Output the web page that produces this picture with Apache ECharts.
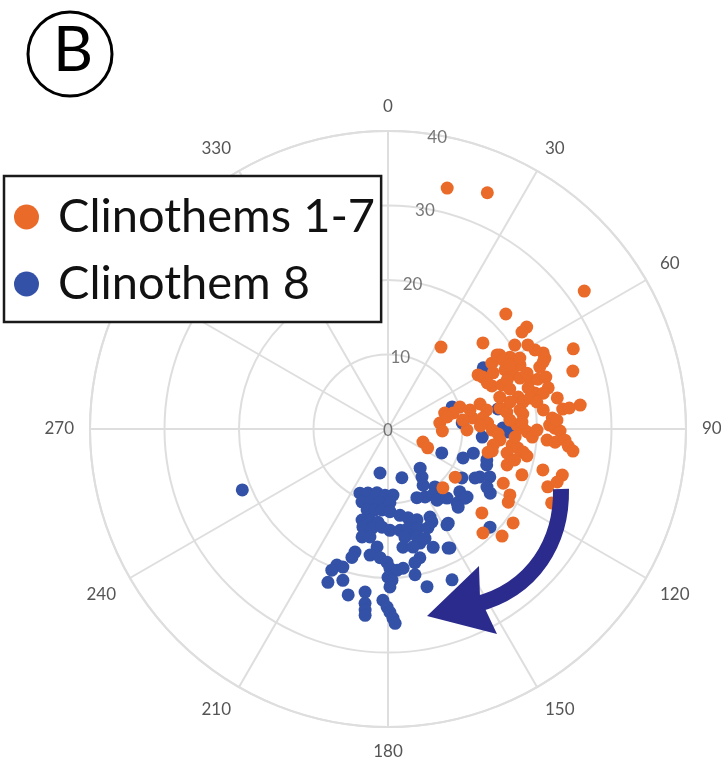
<!DOCTYPE html>
<html>
<head>
<meta charset="utf-8">
<script src="https://cdn.jsdelivr.net/npm/echarts@6/dist/echarts.min.js"></script>
<style>
  html, body { margin: 0; padding: 0; background: #fff; }
  #chart { width: 721px; height: 767px; }
</style>
</head>
<body>
<div id="chart"></div>
<script>
// Series names, in legend order
const seriesNames = ['Clinothems 1-7', 'Clinothem 8'];

// Compass ticks (degrees, clockwise from north) and radial ticks
const angleTicks = [0, 30, 60, 90, 120, 150, 180, 210, 240, 270, 300, 330];
const radiusTicks = [0, 10, 20, 30, 40];
const radiusLabelAngle = 9.5;

// [radius, azimuth] pairs
const clinothems1to7 = [
  [33.3, 13.8], [34.4, 22.8], [32.2, 54.9], [22.1, 45.7], [23.1, 53.7], [22.2, 54.1],
  [13.1, 32.9], [17.2, 47.8], [27.1, 66.6], [23.2, 63.9], [23.1, 65.7], [18.0, 56.5],
  [19.0, 59.5], [19.7, 64.1], [26.0, 72.6], [14.1, 59.0], [16.5, 57.6], [22.0, 67.8],
  [17.6, 63.2], [18.3, 66.3], [19.0, 68.9], [20.2, 71.0], [21.2, 71.6], [22.3, 71.8],
  [15.1, 67.5], [16.4, 68.9], [17.2, 71.8], [22.2, 75.6], [18.0, 76.2], [18.5, 78.7],
  [20.3, 76.2], [23.1, 79.6], [26.0, 82.9], [23.6, 83.5], [24.5, 83.4], [10.1, 73.0],
  [7.9, 74.3], [12.8, 74.8], [13.5, 79.1], [15.9, 80.8], [17.9, 81.8], [18.2, 83.7],
  [22.1, 86.2], [11.4, 82.5], [12.8, 83.4], [13.4, 86.6], [9.0, 76.2], [7.0, 83.4],
  [7.3, 92.1], [12.4, 88.1], [14.0, 90.6], [14.8, 92.6], [17.3, 88.2], [18.1, 89.6],
  [21.7, 88.6], [22.4, 89.7], [23.1, 90.7], [21.4, 94.0], [22.5, 94.5], [23.8, 93.6],
  [24.3, 95.4], [25.0, 96.8], [18.7, 91.2], [19.4, 93.2], [15.1, 95.6], [14.3, 98.7],
  [14.3, 101.9], [16.8, 97.4], [17.6, 98.3], [18.4, 99.7], [19.0, 101.0], [17.1, 93.6],
  [10.6, 90.7], [5.0, 110.4], [5.9, 115.4], [13.8, 103.0], [16.7, 106.8], [19.0, 108.9],
  [11.1, 125.6], [24.2, 104.8], [22.8, 109.9], [17.1, 115.2], [18.6, 118.4], [18.9, 121.3],
  [24.1, 114.3], [10.8, 137.0], [16.9, 131.8], [21.0, 126.9], [18.9, 137.6], [21.0, 133.2],
  [20.1, 68.1], [22.7, 66.6], [19.6, 73.7], [21.4, 77.0], [15.3, 79.4], [16.1, 81.9],
  [8.1, 78.5], [17.7, 55.8], [18.0, 59.0], [18.5, 62.3], [16.0, 61.9], [14.5, 61.3],
  [14.7, 65.1], [17.3, 67.6], [15.6, 74.1], [16.8, 77.5], [19.5, 77.7], [20.3, 79.7],
  [21.0, 83.0], [22.7, 87.0], [16.4, 85.8], [18.0, 87.0], [20.0, 90.4], [16.3, 101.4],
  [17.5, 103.7], [21.5, 104.8], [23.8, 107.4], [11.3, 77.0], [10.1, 83.2], [20.1, 61.7],
  [22.4, 61.7], [21.9, 59.0], [20.4, 56.5]
];

const clinothem8 = [
  [21.2, 247.3], [15.2, 57.3], [9.1, 71.0], [15.0, 79.7], [10.0, 85.4], [15.4, 89.5],
  [16.1, 91.4], [12.7, 94.9], [7.9, 114.0], [10.8, 111.1], [11.9, 105.8], [14.1, 110.0],
  [13.9, 117.6], [15.1, 115.2], [11.9, 123.5], [6.8, 140.6], [7.9, 144.7], [10.0, 141.0],
  [10.4, 151.4], [10.7, 145.7], [11.7, 141.5], [12.8, 131.2], [14.0, 130.7], [13.6, 137.0],
  [16.2, 122.1], [19.0, 133.9], [15.0, 147.4], [13.1, 154.5], [18.0, 152.5], [15.9, 164.3],
  [17.0, 159.1], [14.3, 168.1], [13.6, 165.7], [6.0, 190.3], [6.8, 164.1], [13.4, 119.4],
  [13.9, 107.4], [10.0, 157.2], [11.6, 145.4], [12.2, 139.5], [13.9, 131.9], [14.1, 138.1],
  [9.4, 203.6], [9.0, 197.4], [8.7, 189.8], [8.9, 182.6], [8.9, 175.7], [10.4, 199.6],
  [10.1, 193.9], [9.9, 186.3], [9.9, 178.5], [11.2, 194.5], [11.0, 189.1], [10.9, 184.2],
  [11.1, 178.6], [11.7, 172.1], [12.2, 167.3], [12.8, 162.3], [12.7, 195.9], [12.5, 191.2],
  [12.6, 186.1], [13.6, 194.3], [13.5, 189.2], [13.2, 183.5], [13.6, 178.9], [13.7, 173.2],
  [13.6, 168.6], [13.9, 163.1], [14.3, 158.0], [13.8, 154.7], [14.9, 193.5], [14.7, 189.5],
  [14.7, 171.1], [15.0, 165.0], [15.5, 161.3], [15.1, 148.4], [17.9, 153.2], [16.0, 172.8],
  [16.2, 168.0], [15.9, 185.3], [17.1, 195.0], [17.9, 195.7], [17.1, 188.1], [17.3, 183.5],
  [17.9, 180.4], [17.8, 166.1], [18.3, 168.6], [19.5, 200.6], [20.4, 201.7], [19.5, 198.1],
  [18.7, 179.2], [19.0, 176.3], [18.8, 173.8], [22.1, 201.4], [21.2, 196.6], [19.9, 180.0],
  [20.3, 178.5], [21.2, 179.3], [19.9, 169.5], [21.8, 166.1], [22.0, 157.0], [22.9, 193.5],
  [22.1, 188.0], [23.6, 187.5], [24.5, 187.2], [25.2, 187.0], [23.0, 181.7], [23.9, 180.3],
  [24.6, 179.4], [25.4, 178.5], [26.1, 177.9], [8.9, 148.0], [15.4, 120.4]
];

const ORANGE = '#E96A29';
const BLUE = '#3351A6';
const NAVY = '#2B2B8D';
const GRID = '#dedede';
const FONT = 'Lato';

const chart = echarts.init(document.getElementById('chart'), null, { renderer: 'canvas' });

const option = {
  animation: false,
  backgroundColor: '#fff',
  polar: { center: [388, 429], radius: 298 },
  angleAxis: {
    type: 'value', min: 0, max: 360, interval: 30,
    startAngle: 90, clockwise: true,
    axisLine: { show: true, lineStyle: { color: GRID, width: 2 } },
    axisTick: { show: false },
    splitLine: { show: true, lineStyle: { color: GRID, width: 2 } },
    axisLabel: {
      margin: 16, color: '#555', fontSize: 17, fontFamily: FONT,
      formatter: v => (angleTicks.includes(v) ? String(v) : '')
    }
  },
  radiusAxis: {
    type: 'value', min: 0, max: 40, interval: 10,
    axisLine: { show: false }, axisTick: { show: false }, axisLabel: { show: false },
    splitLine: { show: true, lineStyle: { color: GRID, width: 2 } }
  },
  legend: {
    data: seriesNames,
    orient: 'vertical', left: 4, top: 176,
    padding: [17, 6, 14, 10],
    itemGap: 19, itemWidth: 53, itemHeight: 25, icon: 'circle',
    borderColor: '#1a1a1a', borderWidth: 2.5, borderRadius: 0,
    backgroundColor: '#fff',
    textStyle: { fontSize: 47, lineHeight: 48, fontFamily: FONT, color: '#111' },
    z: 20
  },
  series: [
    {
      name: 'radius ticks', type: 'scatter', coordinateSystem: 'polar', silent: true,
      data: radiusTicks.map(r => [r, radiusLabelAngle]),
      symbolSize: 1, itemStyle: { color: 'rgba(0,0,0,0)' },
      label: {
        show: true, position: 'inside', offset: [0, 2],
        formatter: p => String(p.value[0]),
        color: '#555', fontSize: 17, fontFamily: FONT
      },
      z: 1
    },
    {
      name: seriesNames[1], type: 'scatter', coordinateSystem: 'polar',
      data: clinothem8, symbolSize: 13, itemStyle: { color: BLUE, opacity: 1 }, z: 2
    },
    {
      name: seriesNames[0], type: 'scatter', coordinateSystem: 'polar',
      data: clinothems1to7, symbolSize: 13, itemStyle: { color: ORANGE, opacity: 1 }, z: 3
    }
  ],
  graphic: [
    // circled panel letter
    { type: 'circle', shape: { cx: 70, cy: 54, r: 42 }, style: { fill: 'none', stroke: '#000', lineWidth: 3 }, z: 30 },
    { type: 'text', x: 73, y: 51, style: { text: 'B', font: '62px Lato', fill: '#000', textAlign: 'center', textVerticalAlign: 'middle' }, z: 30 },
    // curved arrow showing the clockwise shift
    { type: 'bezierCurve', shape: { x1: 561, y1: 489, cpx1: 562, cpy1: 540, cpx2: 535, cpy2: 590, x2: 474, y2: 605 },
      style: { stroke: NAVY, lineWidth: 16, fill: null, lineCap: 'butt' }, z: 30 },
    { type: 'polygon', shape: { points: [[427, 616], [479, 566], [480, 598], [497, 634]] },
      style: { fill: NAVY }, z: 30 }
  ]
};

chart.setOption(option);
</script>
</body>
</html>
